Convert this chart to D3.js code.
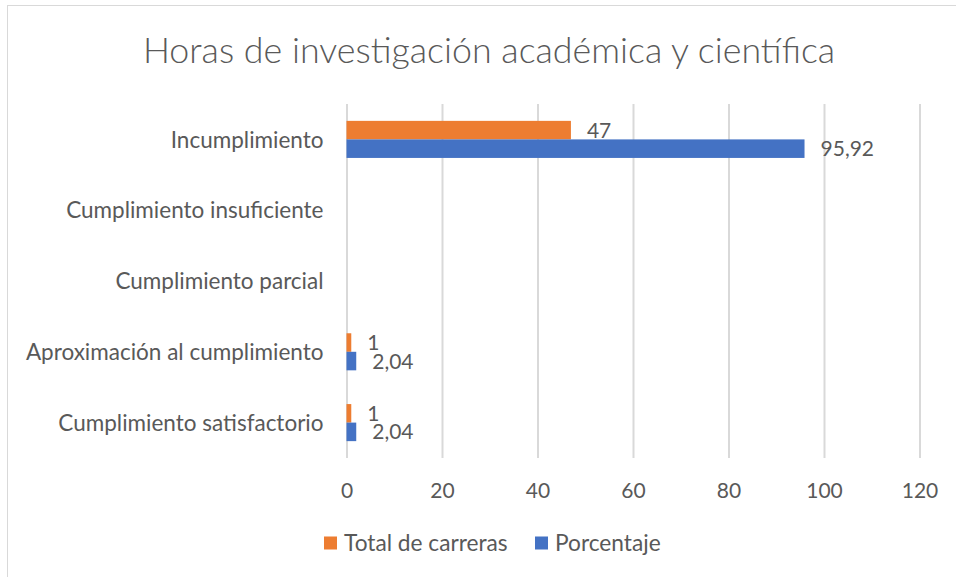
<!DOCTYPE html>
<html>
<head>
<meta charset="utf-8">
<script src="https://cdn.jsdelivr.net/npm/d3@7"></script>
<style>
  body { margin: 0; background: #fff; }
  text { font-family: Lato, "Open Sans", sans-serif; fill: #595959; }
</style>
</head>
<body>
<svg id="chart" width="956" height="577"></svg>
<script>
const title = "Horas de investigación académica y científica";
const categories = [
  "Incumplimiento",
  "Cumplimiento insuficiente",
  "Cumplimiento parcial",
  "Aproximación al cumplimiento",
  "Cumplimiento satisfactorio"
];
const seriesNames = ["Total de carreras", "Porcentaje"];
const totalCarreras = [47, null, null, 1, 1];
const porcentaje = [95.92, null, null, 2.04, 2.04];
const xTicks = [0, 20, 40, 60, 80, 100, 120];
const colors = ["#ED7D31", "#4472C4"];

const svg = d3.select("#chart");
const plot = { left: 346.5, right: 919.5, top: 104, bottom: 458 };

// chart area border (runs off the right and bottom edges like the source)
svg.append("rect")
  .attr("x", 7.5).attr("y", 5.5)
  .attr("width", 1000).attr("height", 1000)
  .attr("fill", "none")
  .attr("stroke", "#d9d9d9");

svg.append("text")
  .attr("x", 489).attr("y", 63)
  .attr("text-anchor", "middle")
  .style("font-size", "35.8px")
  .style("font-weight", 300)
  .text(title);

const x = d3.scaleLinear().domain([0, 120]).range([plot.left, plot.right]);

// Excel gap width 182% -> band padding
const gap = 1.82;
const p = gap / (2 + gap);
const y = d3.scaleBand()
  .domain(categories)
  .range([plot.top, plot.bottom])
  .paddingInner(p)
  .paddingOuter(p / 2);
const ySub = d3.scaleBand().domain(seriesNames).range([0, y.bandwidth()]);

const xAxis = svg.append("g")
  .attr("transform", `translate(0,${plot.bottom})`)
  .call(d3.axisBottom(x).tickValues(xTicks).tickSize(-(plot.bottom - plot.top)).tickPadding(25));
xAxis.select(".domain").remove();
xAxis.selectAll(".tick line").attr("stroke", "#d9d9d9").attr("stroke-width", 2);
xAxis.selectAll(".tick text").style("font-size", "21px").attr("fill", "#595959");

const yAxis = svg.append("g")
  .attr("transform", `translate(${plot.left - 23},0)`)
  .call(d3.axisLeft(y).tickSize(0).tickPadding(0));
yAxis.select(".domain").remove();
yAxis.selectAll(".tick text").style("font-size", "22.5px").attr("fill", "#595959").attr("dy", "0.36em");

const rows = categories.map((c, i) => ({
  category: c,
  values: [
    { series: seriesNames[0], value: totalCarreras[i], color: colors[0] },
    { series: seriesNames[1], value: porcentaje[i], color: colors[1] }
  ]
}));

const fmt = d3.formatLocale({ decimal: ",", thousands: ".", grouping: [3], currency: ["", ""] }).format(".4~r");

const groups = svg.append("g").selectAll("g")
  .data(rows)
  .join("g")
  .attr("transform", d => `translate(0,${y(d.category)})`);

groups.selectAll("rect")
  .data(d => d.values.filter(v => v.value != null))
  .join("rect")
  .attr("x", x(0))
  .attr("y", d => ySub(d.series))
  .attr("width", d => x(d.value) - x(0))
  .attr("height", ySub.bandwidth())
  .attr("fill", d => d.color);

groups.selectAll("text.lbl")
  .data(d => d.values.filter(v => v.value != null))
  .join("text")
  .attr("class", "lbl")
  .attr("x", d => x(d.value) + 16)
  .attr("y", d => ySub(d.series) + ySub.bandwidth() / 2)
  .attr("dy", "0.36em")
  .style("font-size", "21px")
  .text(d => fmt(d.value));

// legend
const legend = svg.append("g").attr("transform", "translate(324,543)");
const legendX = [0, 211];
const items = legend.selectAll("g")
  .data(seriesNames)
  .join("g")
  .attr("transform", (d, i) => `translate(${legendX[i]},0)`);
items.append("rect")
  .attr("x", 0).attr("y", -6.5)
  .attr("width", 13).attr("height", 13)
  .attr("fill", (d, i) => colors[i]);
items.append("text")
  .attr("x", 20).attr("y", 0)
  .attr("dy", "0.36em")
  .style("font-size", "22.7px")
  .text(d => d);
</script>
</body>
</html>
